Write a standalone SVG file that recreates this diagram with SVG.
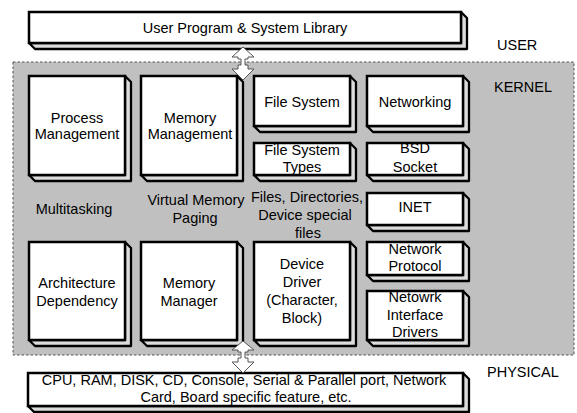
<svg xmlns="http://www.w3.org/2000/svg" width="577" height="413" viewBox="0 0 577 413">
<style>
text{font-family:"Liberation Sans",Arial,sans-serif;font-size:14.5px;fill:#000;text-anchor:middle}
.lbl{text-anchor:start}
.ext{fill:#dcdcdc;stroke:#000;stroke-width:2.3;stroke-linejoin:round}
.front{fill:#fff;stroke:#000;stroke-width:2.5}
.arrow{fill:#fff;stroke:#555;stroke-width:1}
</style>
<rect width="577" height="413" fill="#fff"/>
<g id="kernel-area">
<rect x="13" y="62" width="561" height="293" fill="#c0c0c0" stroke="#555" stroke-width="1" stroke-dasharray="2.5,2"/>
</g>
<g id="user-program">
<path class="ext" d="M29,43 L461,43 L461,12 L467,18 L467,49 L35,49 Z"/>
<rect class="front" x="29" y="12" width="432" height="31"/>
<text x="245" y="33">User Program &amp; System Library</text>
</g>
<g id="process-management">
<path class="ext" d="M29,175 L125,175 L125,76 L131,82 L131,181 L35,181 Z"/>
<rect class="front" x="29" y="76" width="96" height="99"/>
<text x="77" y="123">Process</text><text x="77" y="139">Management</text>
</g>
<g id="memory-management">
<path class="ext" d="M141,175 L237,175 L237,76 L243,82 L243,181 L147,181 Z"/>
<rect class="front" x="141" y="76" width="96" height="99"/>
<text x="190" y="123">Memory</text><text x="190" y="139">Management</text>
</g>
<g id="file-system">
<path class="ext" d="M254,126 L350,126 L350,76 L356,82 L356,132 L260,132 Z"/>
<rect class="front" x="254" y="76" width="96" height="50"/>
<text x="302" y="107">File System</text>
</g>
<g id="networking">
<path class="ext" d="M367,126 L463,126 L463,76 L469,82 L469,132 L373,132 Z"/>
<rect class="front" x="367" y="76" width="96" height="50"/>
<text x="415" y="107">Networking</text>
</g>
<g id="file-system-types">
<path class="ext" d="M254,175 L350,175 L350,143 L356,149 L356,181 L260,181 Z"/>
<rect class="front" x="254" y="143" width="96" height="32"/>
<text x="302" y="155">File System</text><text x="302" y="172">Types</text>
</g>
<g id="bsd-socket">
<path class="ext" d="M367,175 L463,175 L463,143 L469,149 L469,181 L373,181 Z"/>
<rect class="front" x="367" y="143" width="96" height="32"/>
<text x="415" y="153">BSD</text><text x="415" y="172">Socket</text>
</g>
<g id="multitasking"><text x="74" y="214">Multitasking</text></g>
<g id="virtual-memory"><text x="196" y="205">Virtual Memory</text><text x="195" y="223">Paging</text></g>
<g id="files-directories"><text x="307" y="202">Files, Directories,</text><text x="305" y="220">Device special</text><text x="308" y="238">files</text></g>
<g id="inet">
<path class="ext" d="M367,225 L463,225 L463,193 L469,199 L469,231 L373,231 Z"/>
<rect class="front" x="367" y="193" width="96" height="32"/>
<text x="415" y="212">INET</text>
</g>
<g id="architecture-dependency">
<path class="ext" d="M29,340 L125,340 L125,242 L131,248 L131,346 L35,346 Z"/>
<rect class="front" x="29" y="242" width="96" height="98"/>
<text x="77" y="288">Architecture</text><text x="77" y="306">Dependency</text>
</g>
<g id="memory-manager">
<path class="ext" d="M141,340 L237,340 L237,242 L243,248 L243,346 L147,346 Z"/>
<rect class="front" x="141" y="242" width="96" height="98"/>
<text x="189" y="288">Memory</text><text x="189" y="306">Manager</text>
</g>
<g id="device-driver">
<path class="ext" d="M254,340 L350,340 L350,242 L356,248 L356,346 L260,346 Z"/>
<rect class="front" x="254" y="242" width="96" height="98"/>
<text x="302" y="269">Device</text><text x="302" y="287">Driver</text><text x="302" y="305">(Character,</text><text x="302" y="323">Block)</text>
</g>
<g id="network-protocol">
<path class="ext" d="M367,275 L463,275 L463,242 L469,248 L469,281 L373,281 Z"/>
<rect class="front" x="367" y="242" width="96" height="33"/>
<text x="415" y="254">Network</text><text x="415" y="271">Protocol</text>
</g>
<g id="network-interface-drivers">
<path class="ext" d="M367,340 L463,340 L463,291 L469,297 L469,346 L373,346 Z"/>
<rect class="front" x="367" y="291" width="96" height="49"/>
<text x="415" y="302">Netowrk</text><text x="415" y="320">Interface</text><text x="415" y="337">Drivers</text>
</g>
<g id="hardware">
<path class="ext" d="M28,406 L463,406 L463,373 L469,379 L469,412 L34,412 Z"/>
<rect class="front" x="28" y="373" width="435" height="33"/>
<text x="244" y="385">CPU, RAM, DISK, CD, Console, Serial &amp; Parallel port, Network</text>
<text x="246" y="402">Card, Board specific feature, etc.</text>
</g>
<g id="layer-labels">
<text class="lbl" x="497" y="50" font-size="13.5">USER</text>
<text class="lbl" x="494" y="92" font-size="13.5">KERNEL</text>
<text class="lbl" x="487" y="377" font-size="13.5">PHYSICAL</text>
</g>
<g id="connectors">
<path class="arrow" d="M243,47 L254,57 L248,57 L248,59 L245,59 L245,65 L248,65 L248,69 L254,69 L243,80 L232,69 L238,69 L238,65 L241,65 L241,59 L238,59 L238,57 L232,57 Z"/>
<path class="arrow" d="M243,341 L254,350 L248,350 L248,352 L245,352 L245,358 L248,358 L248,362 L254,362 L243,373 L232,362 L238,362 L238,358 L241,358 L241,352 L238,352 L238,350 L232,350 Z"/>
</g>
</svg>
